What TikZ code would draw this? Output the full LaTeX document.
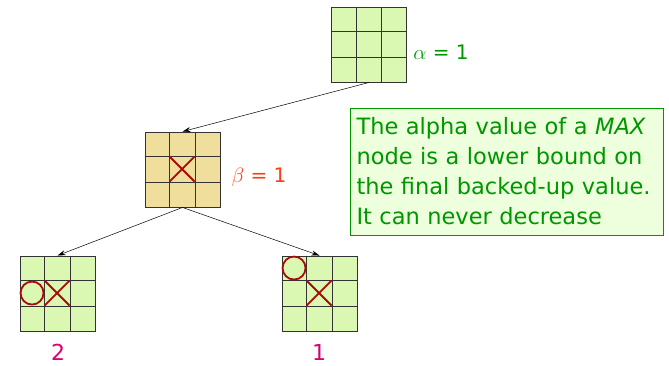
\documentclass[tikz,border=0pt]{standalone}
\usepackage{fontspec}
\setmainfont{DejaVu Sans}
\usetikzlibrary{arrows.meta,calc}

\definecolor{boardgreen}{RGB}{218,248,178}
\definecolor{boardtan}{RGB}{240,222,156}
\definecolor{notegreen}{RGB}{0,150,0}
\definecolor{notefill}{RGB}{238,255,222}
\definecolor{markred}{RGB}{170,10,10}
\definecolor{betared}{RGB}{255,60,20}
\definecolor{valpink}{RGB}{215,0,110}

% inner lines of a 3x3 board
\newcommand{\boardlines}[1]{%
  \foreach \k in {1,2} {
    \draw[gridline] ($(#1.north west)!\k/3!(#1.north east)$) -- ($(#1.south west)!\k/3!(#1.south east)$);
    \draw[gridline] ($(#1.north west)!\k/3!(#1.south west)$) -- ($(#1.north east)!\k/3!(#1.south east)$);
  }}
% X and O in cell (row,col) of a board
\newcommand{\cellX}[3]{%
  \draw[xoline] ($(#1.north west)+(#3*25-25,#2*25-25)$) -- ++(25,25);
  \draw[xoline] ($(#1.north west)+(#3*25,#2*25-25)$) -- ++(-25,25);}
\newcommand{\cellO}[3]{%
  \draw[xoline] ($(#1.north west)+(#3*25-12.5,#2*25-12.5)$) circle (11.5);}

\begin{document}
\begin{tikzpicture}[x=1pt, y=-1pt,
  board/.style={draw=black!80, line width=0.9pt, minimum size=75pt, inner sep=0pt},
  gridline/.style={draw=black!80, line width=0.9pt},
  xoline/.style={draw=markred, line width=1.8pt},
  link/.style={-{Stealth[length=8pt, width=5pt]}, line width=0.5pt},
  value/.style={font=\fontsize{22}{24}\selectfont, text=valpink}]
\useasboundingbox (0,0) rectangle (669,365);

% MAX node at the root
\node[board, fill=boardgreen] (root) at (369,44.5) {};
\boardlines{root}
\node[font=\fontsize{20}{22}\selectfont, text=notegreen] (alpha) at (441,52) {$\alpha$ = 1};

% MIN node after the X move
\node[board, fill=boardtan] (mid) at (182.5,169.5) {};
\boardlines{mid}
\cellX{mid}{2}{2}
\node[font=\fontsize{20}{22}\selectfont, text=betared] (beta) at (259,177) {$\beta$ = 1};

% leaves
\node[board, fill=boardgreen] (left) at (57.5,293.5) {};
\boardlines{left}
\cellO{left}{2}{1}
\cellX{left}{2}{2}
\node[value] (lval) at (58,352) {2};

\node[board, fill=boardgreen] (right) at (319.5,293.5) {};
\boardlines{right}
\cellO{right}{1}{1}
\cellX{right}{2}{2}
\node[value] (rval) at (319,352) {1};

% edges
\draw[link] (root.south) -- (mid.north);
\draw[link] (mid.south) -- (left.north);
\draw[link] (mid.south) -- (right.north);

% note
\node[draw=notegreen, fill=notefill, line width=0.8pt, minimum width=313pt, minimum height=127pt,
  text width=300pt, align=left, inner xsep=6.5pt, inner ysep=0pt, text=notegreen,
  font=\fontsize{22.5}{30}\selectfont] (note) at (506.5,171.5)
  {The alpha value of a \textit{MAX}\\node is a lower bound on\\the final backed-up value.\\It can never decrease};

\end{tikzpicture}
\end{document}
